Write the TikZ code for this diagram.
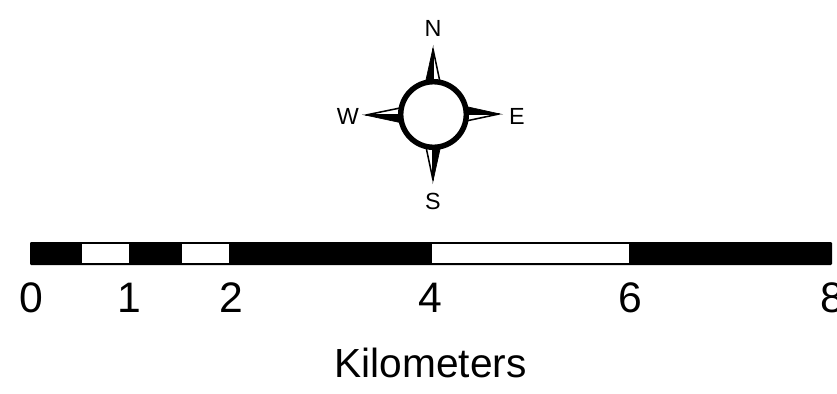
\documentclass[tikz,border=0pt]{standalone}
\usepackage{fontspec}
\setmainfont{Liberation Sans}
\tikzset{
  blackpart/.style={fill=black,draw=black,line width=0.5pt,line join=miter},
  whitepart/.style={fill=white,draw=black,line width=1.15pt,line join=round},
  dirlabel/.style={inner sep=0pt,font=\fontsize{17.5pt}{17.5pt}\selectfont},
  numlabel/.style={inner sep=0pt,anchor=base,font=\fontsize{32pt}{32pt}\selectfont},
}
\begin{document}
\begin{tikzpicture}[x=0.75pt,y=-0.75pt]
\useasboundingbox (0,0) rectangle (837,393);
\clip (0,0) rectangle (837,393);
% scale bar
\fill[black,rounded corners=0.8pt] (30,242) rectangle (832,265);
\fill[white] (82,244) rectangle (129,263);
\fill[white] (182,244) rectangle (229,263);
\fill[white] (432,244) rectangle (629,263);
% compass points
\coordinate (c) at (433.5,114.5);
\draw[whitepart] (433,49) -- (440,82) -- (433,82) -- cycle;
\draw[blackpart] (433,48) -- (425.5,82) -- (433,82) -- cycle;
\draw[whitepart] (499,114) -- (466,121) -- (466,114) -- cycle;
\draw[blackpart] (500,114) -- (466,106.5) -- (466,114) -- cycle;
\draw[whitepart] (433,180) -- (426,147) -- (433,147) -- cycle;
\draw[blackpart] (433,181) -- (440.5,147) -- (433,147) -- cycle;
\draw[whitepart] (366,115) -- (400,108) -- (400,115) -- cycle;
\draw[blackpart] (365,115) -- (400,122.5) -- (400,115) -- cycle;
\draw[line width=4.1pt,fill=white] (c) circle[radius=32.8];
% labels
\node[dirlabel] (n) at (433,28) {N};
\node[dirlabel] (s) at (433,201) {S};
\node[dirlabel] (w) at (348,116) {W};
\node[dirlabel] (e) at (517,116) {E};
\node[numlabel] (n0) at (31,312) {0};
\node[numlabel] (n1) at (129,312) {1};
\node[numlabel] (n2) at (231,312) {2};
\node[numlabel] (n4) at (430,312) {4};
\node[numlabel] (n6) at (630,312) {6};
\node[numlabel] (n8) at (832,312) {8};
\node[inner sep=0pt,anchor=base,font=\fontsize{30.5pt}{30.5pt}\selectfont] (km) at (430.5,377) {Kilometers};
\end{tikzpicture}
\end{document}
